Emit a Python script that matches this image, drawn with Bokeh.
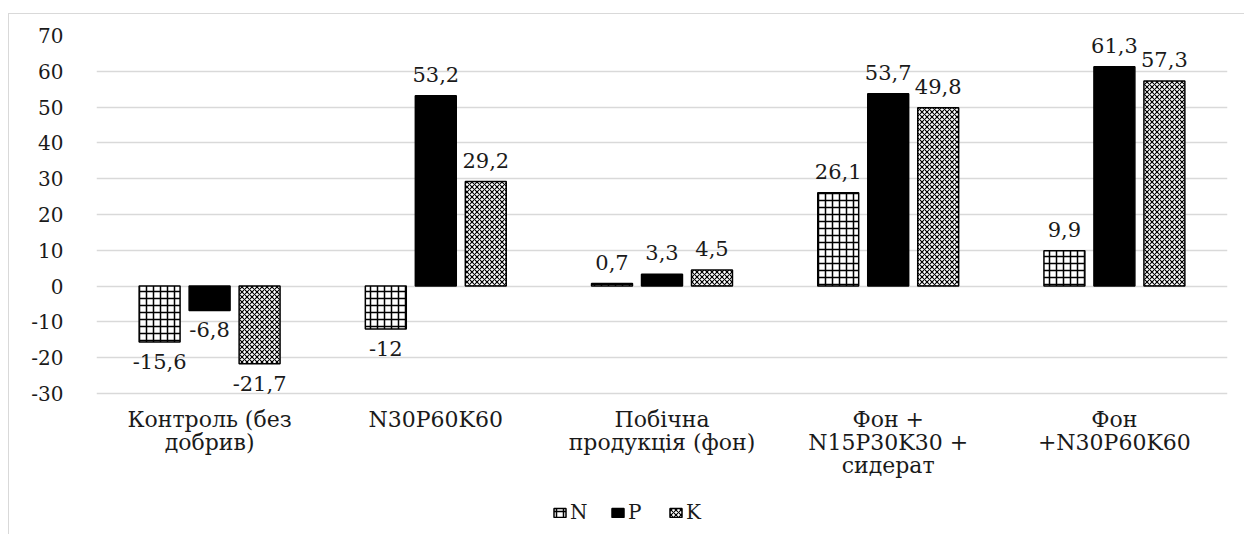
from bokeh.plotting import figure
from bokeh.models import (ColumnDataSource, LabelSet, Legend, LegendItem, FactorRange,
                          FixedTicker, NumeralTickFormatter)
from bokeh.core.properties import value
from bokeh.transform import dodge
from bokeh.embed import file_html
from bokeh.resources import INLINE

categories = ["Контроль (без\nдобрив)", "N30P60K60", "Побічна\nпродукція (фон)",
              "Фон +\nN15P30K30 +\nсидерат", "Фон\n+N30P60K60"]
series = ["N", "P", "K"]
n_values = [-15.6, -12.0, 0.7, 26.1, 9.9]
p_values = [-6.8, 53.2, 3.3, 53.7, 61.3]
k_values = [-21.7, 29.2, 4.5, 49.8, 57.3]
y_ticks = [-30, -20, -10, 0, 10, 20, 30, 40, 50, 60, 70]

FONT = "DejaVu Serif"
TXT = "#1a1a1a"
PX_PER_UNIT = 3.58
FRAME_H = 500
LINE_H = 23


def fmt(v):
    if float(v).is_integer():
        return str(int(v))
    return ("%.1f" % v).replace(".", ",")


y_top = max(y_ticks)
p = figure(x_range=FactorRange(*categories), y_range=(y_top - FRAME_H / PX_PER_UNIT, y_top),
           width=1236, height=521, output_backend="svg", toolbar_location=None,
           min_border_left=87, min_border_right=18, min_border_top=21, min_border_bottom=0)
p.margin = (13, 0, 0, 8)
p.styles = {"border-top": "1px solid #d9d9d9", "border-left": "1px solid #d9d9d9"}
p.outline_line_color = None
p.background_fill_color = "white"
p.border_fill_color = "white"

p.xgrid.grid_line_color = None
p.ygrid.grid_line_color = "#d9d9d9"
p.ygrid.grid_line_width = 1.3
p.yaxis.ticker = FixedTicker(ticks=y_ticks)
p.yaxis.formatter = NumeralTickFormatter(format="0")
p.yaxis.axis_line_color = None
p.yaxis.major_tick_line_color = None
p.yaxis.minor_tick_line_color = None
p.yaxis.major_label_standoff = 27
p.yaxis.major_label_text_font = FONT
p.yaxis.major_label_text_font_size = "20px"
p.yaxis.major_label_text_color = TXT
p.xaxis.visible = False

# category labels below the lowest gridline, one centred label per line
max_lines = max(len(c.split("\n")) for c in categories)
for i in range(max_lines):
    cats = [c for c in categories if len(c.split("\n")) > i]
    lines = [c.split("\n")[i] for c in cats]
    src = ColumnDataSource(dict(cat=cats, txt=lines, y=[min(y_ticks)] * len(cats)))
    p.add_layout(LabelSet(x="cat", y="y", text="txt", source=src, y_offset=-13 - i * LINE_H,
                          text_align="center", text_baseline="top",
                          text_font=value(FONT), text_font_size="22px", text_color=TXT))

offsets = [-0.221, 0.0, 0.221]
bar_w = 0.181
values = [n_values, p_values, k_values]
styles = [
    dict(fill_color="white", hatch_pattern="cross", hatch_scale=7, hatch_weight=1.5, hatch_color="black"),
    dict(fill_color="black"),
    dict(fill_color="white", hatch_pattern="diagonal_cross", hatch_scale=5, hatch_weight=1.1, hatch_color="black"),
]

items = []
for name, vals, off, st in zip(series, values, offsets, styles):
    src = ColumnDataSource(dict(cat=categories, val=vals))
    r = p.vbar(x=dodge("cat", off, range=p.x_range), top="val", bottom=0, width=bar_w,
               source=src, line_color="black", line_width=1.5, **st)
    items.append(LegendItem(label=name, renderers=[r]))

    pos = [(c, v, fmt(v)) for c, v in zip(categories, vals) if v >= 0]
    neg = [(c, v, fmt(v)) for c, v in zip(categories, vals) if v < 0]
    if pos:
        s = ColumnDataSource(dict(cat=[a[0] for a in pos], val=[a[1] for a in pos], txt=[a[2] for a in pos]))
        p.add_layout(LabelSet(x=dodge("cat", off, range=p.x_range), y="val", text="txt", source=s,
                              text_align="center", text_baseline="alphabetic", y_offset=14,
                              text_font=value(FONT), text_font_size="21px", text_color=TXT))
    if neg:
        s = ColumnDataSource(dict(cat=[a[0] for a in neg], val=[a[1] for a in neg], txt=[a[2] for a in neg]))
        p.add_layout(LabelSet(x=dodge("cat", off, range=p.x_range), y="val", text="txt", source=s,
                              text_align="center", text_baseline="top", y_offset=-12,
                              text_font=value(FONT), text_font_size="21px", text_color=TXT))

legend = Legend(items=items, orientation="horizontal", location=(456, 11))
legend.label_text_font = FONT
legend.label_text_font_size = "20px"
legend.label_text_color = TXT
legend.glyph_width = 15
legend.glyph_height = 11
legend.label_standoff = 3
legend.spacing = 20
legend.padding = 2
legend.margin = 0
legend.border_line_color = None
legend.background_fill_alpha = 0
p.add_layout(legend, "center")

open("out.html", "w").write(file_html(p, INLINE))
